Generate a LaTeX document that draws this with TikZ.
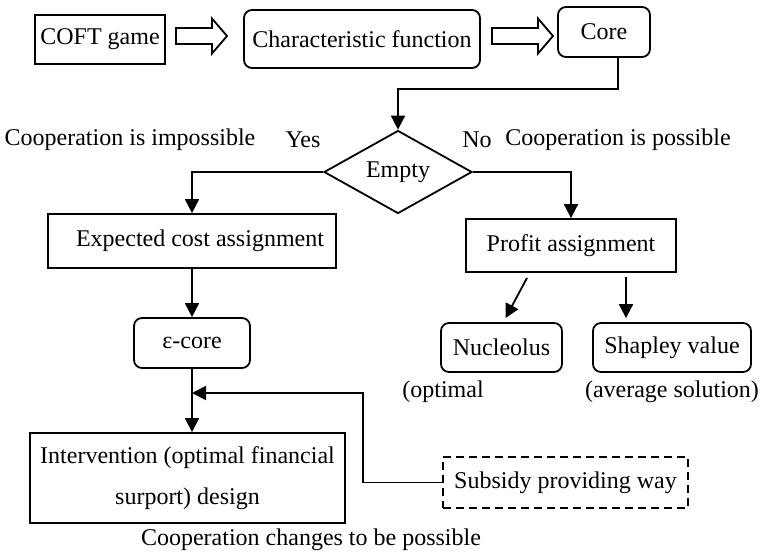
\documentclass[tikz,border=0pt]{standalone}
\usepackage{fontspec}
\setmainfont{Liberation Serif}
\usetikzlibrary{shapes.geometric,arrows.meta,calc}

\newcommand{\fatarrow}[2]{%
  \draw[line width=.9pt] let \p1=(#1), \p2=(#2) in
    (\x1,\y1+4pt) -- (\x2-7.5pt,\y1+4pt) -- (\x2-7.5pt,\y1+8.75pt) -- (\x2,\y1)
    -- (\x2-7.5pt,\y1-8.75pt) -- (\x2-7.5pt,\y1-4pt) -- (\x1,\y1-4pt) -- cycle;}

\begin{document}
\begin{tikzpicture}[x=0.5pt,y=-0.5pt,
    font=\fontsize{12}{14}\selectfont,
    every node/.style={inner sep=0pt},
    sqbox/.style={draw,line width=.9pt},
    rbox/.style={draw,line width=.9pt,rounded corners=4pt},
    flow/.style={line width=.9pt,-{Triangle[length=7pt,width=7pt]}}]
  \useasboundingbox (0,0) rectangle (761,554);

  \node[sqbox, minimum width=65pt, minimum height=24.5pt] (coft) at (100,39.5) {COFT game};
  \node[rbox, minimum width=118pt, minimum height=29pt] (charf) at (362,39) {Characteristic function};
  \node[rbox, minimum width=46pt, minimum height=25pt] (core) at (604,32) {Core};

  \coordinate (a1s) at (176,36);
  \coordinate (a1e) at (227,36);
  \coordinate (a2s) at (492,36);
  \coordinate (a2e) at (553,36);
  \fatarrow{a1s}{a1e}
  \fatarrow{a2s}{a2e}

  \node[draw, line width=.9pt, diamond, aspect=1.78, minimum width=74pt, minimum height=41.5pt] (empty) at (398,172) {\raisebox{-2pt}{Empty}};

  \node (yes) at (303,140) {Yes};
  \node (no) at (477,140) {No};
  \node (imposs) at (130,140) {Cooperation is impossible};
  \node (poss) at (618,140) {Cooperation is possible};

  \node[sqbox, minimum width=144pt, minimum height=27pt] (expc) at (192,241) {\hspace{8pt}Expected cost assignment};
  \node[sqbox, minimum width=105pt, minimum height=26.5pt] (profit) at (571,245.5) {Profit assignment};

  \node[rbox, minimum width=58pt, minimum height=25pt] (ecore) at (192,343) {ε-core};
  \node[rbox, minimum width=60.5pt, minimum height=24.5pt] (nucl) at (501.5,347.5) {Nucleolus};
  \node[rbox, minimum width=79pt, minimum height=24.5pt] (shap) at (672,347.5) {Shapley value};

  \node (optim) at (443,392) {(optimal};
  \node (avg) at (672,392) {(average solution)};

  \node[sqbox, minimum width=157.5pt, minimum height=45pt, align=center,
        font=\fontsize{12}{20.5}\selectfont] (interv) at (187.5,478)
        {Intervention (optimal financial\\surport) design};
  \node[draw, line width=.9pt, dash pattern=on 4pt off 2.5pt,
        minimum width=122.5pt, minimum height=25.5pt] (subs) at (565.5,482.5) {Subsidy providing way};

  \node (change) at (311,540) {Cooperation changes to be possible};

  \coordinate (bend) at (363,393);

  \draw[flow] ([xshift=7pt]core.south) -- ++(0,-15.5pt) -| (empty.north);
  \draw[flow] (empty.west) -| (expc.north);
  \draw[flow] (empty.east) -| (profit.north);
  \draw[flow] (expc.south) -- (ecore.north);
  \draw[flow] ([xshift=-22pt,yshift=-2.5pt]profit.south) -- ([xshift=2pt,yshift=2pt]nucl.north);
  \draw[flow] ([xshift=27.5pt,yshift=-2pt]profit.south) -- ($(profit.south |- shap.north)+(27.5pt,2pt)$);
  \draw[flow] (ecore.south) -- (ecore.south |- interv.north);
  \draw[flow] (subs.west) -| (bend) -- (bend -| ecore.south);
\end{tikzpicture}
\end{document}
